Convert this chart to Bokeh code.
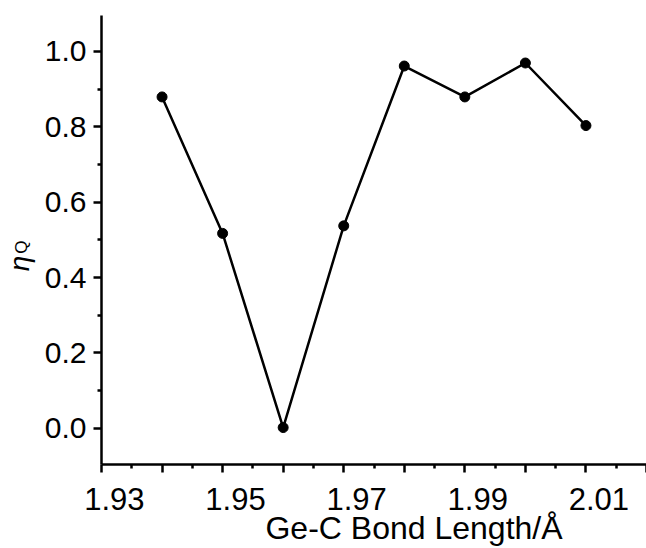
from bokeh.plotting import figure
from bokeh.models import Range1d, FixedTicker, PrintfTickFormatter, LinearAxis
from bokeh.embed import file_html
from bokeh.resources import INLINE

# ---- data ----
bond_length = [1.94, 1.95, 1.96, 1.97, 1.98, 1.99, 2.00, 2.01]
eta_q = [0.879, 0.517, 0.002, 0.537, 0.961, 0.879, 0.969, 0.803]

x_major_ticks = [1.93, 1.94, 1.95, 1.96, 1.97, 1.98, 1.99, 2.00, 2.01, 2.02]
x_minor_ticks = [1.935, 1.945, 1.955, 1.965, 1.975, 1.985, 1.995, 2.005, 2.015]
x_tick_labels = ["1.93", "", "1.95", "", "1.97", "", "1.99", "", "2.01", ""]
y_major_ticks = [0.0, 0.2, 0.4, 0.6, 0.8, 1.0]
y_minor_ticks = [0.1, 0.3, 0.5, 0.7, 0.9]

x_title = "Ge-C Bond Length/Å"
y_title_main = "η"
y_title_sub = "Q"

FONT = "Liberation Sans"
NB = "\u00a0"
PAD = NB * 3

p = figure(width=646, height=548, output_backend="svg", toolbar_location=None,
           x_range=Range1d(1.93, 2.02), y_range=Range1d(-0.096, 1.095),
           min_border_left=100, min_border_right=0, min_border_top=15,
           min_border_bottom=83)
p.outline_line_color = None
p.grid.visible = False
p.background_fill_color = "white"
p.border_fill_color = "white"

p.line(bond_length, eta_q, line_color="black", line_width=2.5)
p.scatter(bond_length, eta_q, size=10, fill_color="black", line_color="black")

for ax in (p.xaxis[0], p.yaxis[0]):
    ax.axis_line_width = 2.5
    ax.axis_line_color = "black"
    ax.major_tick_line_width = 2.5
    ax.minor_tick_line_width = 2.5
    ax.major_tick_in = 0
    ax.minor_tick_in = 0
    ax.major_tick_out = 8
    ax.minor_tick_out = 4
    ax.major_label_text_font = FONT
    ax.major_label_text_color = "black"
    ax.axis_label_text_font = FONT
    ax.axis_label_text_font_style = "normal"
    ax.axis_label_text_color = "black"

xax = p.xaxis[0]
xax.ticker = FixedTicker(ticks=x_major_ticks, minor_ticks=x_minor_ticks)
xax.major_label_overrides = {
    t: (PAD + lab if lab else "") for t, lab in zip(x_major_ticks, x_tick_labels)
}
xax.major_label_text_font_size = "31px"
xax.major_label_standoff = 9
# x title, shifted right as in the reference
xax.axis_label = NB * 9 + x_title
xax.axis_label_text_font_size = "32px"
xax.axis_label_standoff = -10

yax = p.yaxis[0]
yax.ticker = FixedTicker(ticks=y_major_ticks, minor_ticks=y_minor_ticks)
yax.formatter = PrintfTickFormatter(format="%.1f")
yax.major_label_text_font_size = "30px"
yax.major_label_standoff = 7
yax.axis_label = y_title_sub + NB * 3
yax.axis_label_text_font_size = "17px"
yax.axis_label_standoff = 11

# outer axis carrying only the italic eta
eta_axis = LinearAxis(ticker=FixedTicker(ticks=[]), axis_label=y_title_main + NB * 6,
                      axis_line_color=None, major_tick_line_color=None,
                      minor_tick_line_color=None, major_tick_out=0, major_tick_in=0,
                      major_label_standoff=0, axis_label_standoff=-26,
                      axis_label_text_font=FONT, axis_label_text_font_style="italic",
                      axis_label_text_font_size="28px", axis_label_text_color="black")
p.add_layout(eta_axis, "left")

open("out.html", "w").write(file_html(p, INLINE))
